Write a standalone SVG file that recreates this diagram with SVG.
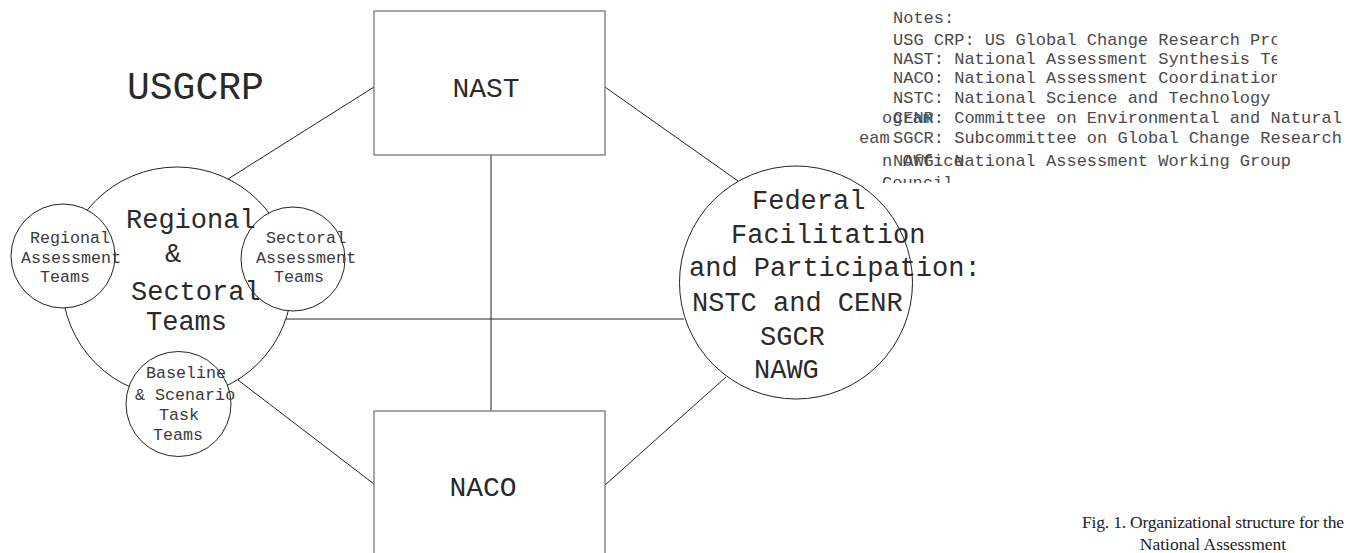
<svg xmlns="http://www.w3.org/2000/svg" width="1356" height="553" viewBox="0 0 1356 553">
<style>
.mono{font-family:"Liberation Mono","Courier New",monospace;fill:#2a2a2a}
.big{font-size:27px}
.sm{font-size:16.7px;fill:#3a3a3a}
.note{font-size:17px;fill:#4a4a4a}
.box{fill:#fff;stroke:#777;stroke-width:1.3}
.circ{fill:#fff;stroke:#222;stroke-width:1}
.conn{stroke:#222;stroke-width:1;fill:none}
.cap{font-family:"Liberation Serif","Times New Roman",serif;font-size:17.5px;fill:#222}
</style>
<defs>
<clipPath id="clipR"><rect x="0" y="0" width="1277" height="553"/></clipPath>
<clipPath id="clipF"><rect x="855" y="0" width="501" height="183"/></clipPath>
</defs>
<rect width="1356" height="553" fill="#fff"/>
<g id="connectors">
<line class="conn" x1="228" y1="179" x2="374" y2="87"/>
<line class="conn" x1="605" y1="87" x2="738" y2="181"/>
<line class="conn" x1="491" y1="155" x2="491" y2="411"/>
<line class="conn" x1="286" y1="319" x2="684" y2="319"/>
<line class="conn" x1="238" y1="380" x2="374" y2="484"/>
<line class="conn" x1="605" y1="485" x2="726" y2="377"/>
</g>
<g id="usgcrp"><text class="mono" x="127" y="99" font-size="38">USGCRP</text></g>
<g id="nast">
<rect class="box" x="374" y="11" width="231" height="144"/>
<text class="mono" x="486" y="97" font-size="28" text-anchor="middle">NAST</text>
</g>
<g id="naco">
<rect class="box" x="374" y="411" width="231" height="200"/>
<text class="mono" x="483" y="496" font-size="28" text-anchor="middle">NACO</text>
</g>
<g id="regional-sectoral">
<circle class="circ" cx="177" cy="282" r="115"/>
</g>
<g id="regional-assessment">
<circle class="circ" cx="63" cy="256" r="52"/>
</g>
<g id="sectoral-assessment">
<circle class="circ" cx="293" cy="259" r="52"/>
</g>
<g id="baseline-scenario">
<circle class="circ" cx="178.5" cy="404" r="52.5"/>
</g>
<g id="federal">
<circle class="circ" cx="796" cy="282.5" r="116.5"/>
</g>
<g id="labels">
<text class="mono big" x="126" y="228">Regional</text>
<text class="mono big" x="165" y="262">&amp;</text>
<text class="mono big" x="131" y="300">Sectoral</text>
<text class="mono big" x="146" y="330">Teams</text>
<text class="mono sm" x="30" y="243">Regional</text>
<text class="mono sm" x="21" y="263">Assessment</text>
<text class="mono sm" x="40" y="282">Teams</text>
<text class="mono sm" x="266" y="243">Sectoral</text>
<text class="mono sm" x="256" y="263">Assessment</text>
<text class="mono sm" x="274" y="282">Teams</text>
<text class="mono sm" x="146" y="378">Baseline</text>
<text class="mono sm" x="135" y="400">&amp; Scenario</text>
<text class="mono sm" x="159" y="420">Task</text>
<text class="mono sm" x="153" y="440">Teams</text>
<text class="mono big" x="752" y="209">Federal</text>
<text class="mono big" x="731" y="243">Facilitation</text>
<text class="mono big" x="689" y="276">and Participation:</text>
<text class="mono big" x="692" y="311">NSTC and CENR</text>
<text class="mono big" x="760" y="345">SGCR</text>
<text class="mono big" x="754" y="378">NAWG</text>
</g>
<g id="notes">
<text class="mono note" x="893" y="23">Notes:</text>
<g clip-path="url(#clipR)">
<text class="mono note" x="893" y="45">USG CRP: US Global Change Research Pro</text>
<text class="mono note" x="893" y="64">NAST: National Assessment Synthesis Te</text>
<text class="mono note" x="893" y="83">NACO: National Assessment Coordination</text>
<text class="mono note" x="893" y="103">NSTC: National Science and Technology</text>
</g>
<text class="mono note" x="893" y="123">CENR: Committee on Environmental and Natural</text>
<text class="mono note" x="893" y="143">SGCR: Subcommittee on Global Change Research</text>
<text class="mono note" x="893" y="166">NAWG: National Assessment Working Group</text>
<g clip-path="url(#clipF)">
<text class="mono note" x="882" y="123">ogram</text>
<text class="mono note" x="859" y="143">eam</text>
<text class="mono note" x="882" y="166">n Office</text>
<text class="mono note" x="882" y="188"> Council</text>
</g>
</g>
<g id="caption">
<text class="cap" x="1082" y="528" textLength="262" lengthAdjust="spacing">Fig. 1. Organizational structure for the</text>
<text class="cap" x="1213" y="550" text-anchor="middle">National Assessment</text>
</g>
</svg>
